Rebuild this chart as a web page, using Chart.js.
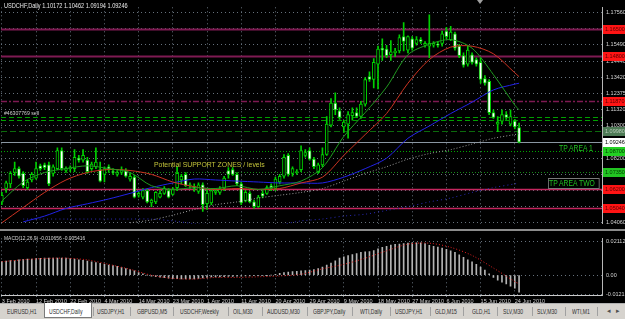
<!DOCTYPE html>
<html>
<head>
<meta charset="utf-8">
<title>USDCHF,Daily</title>
<script src="https://cdn.jsdelivr.net/npm/chart.js"></script>
<style>
  html, body { margin: 0; padding: 0; }
  body { width: 625px; height: 319px; position: relative; overflow: hidden; background: #000; font-family: "Liberation Sans", Arial, sans-serif; }
  canvas { position: absolute; left: 0; }
  #main { top: 0; }
  #macd { top: 231px; }
  #sep { position: absolute; left: 0; top: 229px; width: 625px; height: 2px; background: #8c8c8c; }
  .txt { position: absolute; white-space: nowrap; line-height: 1; transform-origin: 0 0; }
  #shift { position: absolute; left: 477px; top: 0; width: 0; height: 0; border-left: 3px solid transparent; border-right: 3px solid transparent; border-top: 4px solid #a0a0a0; }
  #tabs { position: absolute; left: 0; top: 303px; width: 625px; height: 16px; background: #d6d3ce; border-top: 1px solid #b0b0b0; }
  .tab { position: absolute; top: 4px; font-size: 7.5px; color: #303030; transform: scaleX(0.68); transform-origin: 0 0; white-space: nowrap; line-height: 1; }
  .bar { position: absolute; top: 3px; width: 1px; height: 9px; background: #a0a0a0; }
  #active { position: absolute; left: 44px; top: -1px; width: 46px; height: 14px; background: #fff; border: 1px solid #7a7a7a; border-top: none; }
  .arrow { position: absolute; top: 3px; font-size: 7px; color: #505050; }
</style>
</head>
<body>
<canvas id="main" width="625" height="231"></canvas>
<div id="sep"></div>
<canvas id="macd" width="625" height="73"></canvas>
<div id="shift"></div>
<div class="txt" id="title" style="left:4px;top:3px;font-size:6.5px;color:#e8e8e8;transform:scaleX(0.86)"></div>
<div class="txt" style="left:4px;top:110px;font-size:6px;color:#d0d0d0;transform:scaleX(0.86)">#46307769 sell</div>
<div class="txt" style="left:154px;top:161px;font-size:8px;color:#c4c43a;transform:scaleX(0.86)">Potential SUPPORT ZONES / levels</div>
<div class="txt" style="left:559px;top:144px;font-size:8.5px;color:#22c022;transform:scaleX(0.8)">TP AREA 1</div>
<div class="txt" style="left:548px;top:178px;width:58px;height:9px;border:1px solid #7a7a7a;transform:scaleX(0.86)"></div>
<div class="txt" style="left:549px;top:179px;font-size:8.5px;color:#22c022;transform:scaleX(0.8)">TP AREA TWO</div>
<div class="txt" id="macdTitle" style="left:4px;top:235px;font-size:6px;color:#d8d8d8;transform:scaleX(0.82)"></div>
<div id="tabs"><div id="active"></div></div>
<script>
// USDCHF daily candles, 3 Feb 2010 .. 25 Jun 2010
const open = [
  1.0540,1.0626,1.0656,1.0729,1.0754,1.0723,1.0632,1.0681,1.0693,1.0772,
  1.0778,1.0778,1.0723,1.0754,1.0870,1.0742,1.0754,1.0754,1.0821,1.0809,
  1.0809,1.0754,1.0766,1.0748,1.0717,1.0766,1.0735,1.0717,1.0729,1.0742,
  1.0687,1.0699,1.0583,1.0571,1.0613,1.0534,1.0540,1.0571,1.0595,1.0613,
  1.0589,1.0632,1.0681,1.0717,1.0644,1.0638,1.0607,1.0650,1.0528,1.0534,
  1.0601,1.0601,1.0626,1.0742,1.0748,1.0717,1.0656,1.0546,1.0595,1.0540,
  1.0510,1.0595,1.0595,1.0644,1.0626,1.0668,1.0705,1.0839,1.0723,1.0729,
  1.0748,1.0839,1.0870,1.0815,1.0735,1.0778,1.0845,1.1034,1.1175,1.1126,
  1.1022,1.1040,1.1095,1.1114,1.1089,1.1169,1.1345,1.1327,1.1425,1.1528,
  1.1522,1.1486,1.1498,1.1510,1.1602,1.1516,1.1589,1.1559,1.1583,1.1547,
  1.1541,1.1547,1.1553,1.1559,1.1638,1.1583,1.1620,1.1541,1.1480,1.1425,
  1.1486,1.1455,1.1437,1.1333,1.1315,1.1114,1.1040,1.1059,1.1101,1.1040,
  1.1059,1.10172
];
const high = [
  1.0601,1.0674,1.0735,1.0796,1.0766,1.0735,1.0681,1.0729,1.0796,1.0784,
  1.0790,1.0796,1.0778,1.0888,1.0888,1.0766,1.0772,1.0876,1.0839,1.0876,
  1.0827,1.0796,1.0888,1.0796,1.0766,1.0778,1.0754,1.0742,1.0766,1.0754,
  1.0723,1.0711,1.0607,1.0626,1.0626,1.0559,1.0607,1.0613,1.0638,1.0626,
  1.0632,1.0766,1.0717,1.0729,1.0662,1.0656,1.0662,1.0662,1.0620,1.0626,
  1.0626,1.0638,1.0705,1.0760,1.0760,1.0729,1.0668,1.0613,1.0607,1.0552,
  1.0583,1.0613,1.0644,1.0656,1.0699,1.0717,1.0845,1.0851,1.0766,1.0748,
  1.0900,1.0876,1.0888,1.0827,1.0790,1.0888,1.1089,1.1205,1.1242,1.1144,
  1.1065,1.1120,1.1144,1.1144,1.1187,1.1339,1.1376,1.1461,1.1541,1.1589,
  1.1547,1.1577,1.1528,1.1614,1.1693,1.1608,1.1602,1.1602,1.1596,1.1571,
  1.1742,1.1571,1.1571,1.1638,1.1663,1.1669,1.1632,1.1553,1.1498,1.1541,
  1.1498,1.1467,1.1467,1.1352,1.1327,1.1132,1.1089,1.1132,1.1120,1.1132,
  1.1071,1.10462
];
const low = [
  1.0522,1.0601,1.0632,1.0711,1.0693,1.0632,1.0620,1.0668,1.0687,1.0742,
  1.0748,1.0644,1.0705,1.0748,1.0742,1.0729,1.0735,1.0735,1.0796,1.0796,
  1.0723,1.0742,1.0754,1.0668,1.0668,1.0729,1.0717,1.0705,1.0717,1.0699,
  1.0674,1.0565,1.0571,1.0559,1.0534,1.0510,1.0528,1.0565,1.0589,1.0565,
  1.0583,1.0613,1.0656,1.0638,1.0626,1.0607,1.0595,1.0479,1.0491,1.0522,
  1.0589,1.0589,1.0613,1.0693,1.0711,1.0644,1.0522,1.0540,1.0534,1.0498,
  1.0504,1.0565,1.0589,1.0613,1.0613,1.0656,1.0693,1.0705,1.0705,1.0717,
  1.0735,1.0827,1.0809,1.0754,1.0723,1.0766,1.0839,1.1022,1.1101,1.1071,
  1.0986,1.0949,1.1065,1.1083,1.1077,1.1156,1.1315,1.1272,1.1266,1.1449,
  1.1467,1.1449,1.1474,1.1498,1.1510,1.1498,1.1516,1.1547,1.1559,1.1535,
  1.1467,1.1535,1.1535,1.1541,1.1589,1.1577,1.1516,1.1467,1.1406,1.1412,
  1.1425,1.1412,1.1303,1.1291,1.1101,1.1077,1.0992,1.1040,1.1071,1.1028,
  1.1010,1.09194
];
const close = [
  1.0583,1.0662,1.0723,1.0754,1.0705,1.0644,1.0668,1.0717,1.0754,1.0754,
  1.0760,1.0656,1.0766,1.0870,1.0754,1.0754,1.0760,1.0827,1.0809,1.0839,
  1.0735,1.0784,1.0796,1.0674,1.0754,1.0748,1.0729,1.0729,1.0748,1.0705,
  1.0705,1.0571,1.0595,1.0613,1.0540,1.0552,1.0601,1.0595,1.0626,1.0571,
  1.0620,1.0723,1.0705,1.0644,1.0650,1.0626,1.0650,1.0522,1.0595,1.0613,
  1.0613,1.0626,1.0693,1.0717,1.0717,1.0656,1.0534,1.0601,1.0540,1.0510,
  1.0571,1.0577,1.0632,1.0626,1.0687,1.0705,1.0827,1.0717,1.0754,1.0735,
  1.0870,1.0857,1.0815,1.0766,1.0778,1.0845,1.1040,1.1175,1.1132,1.1083,
  1.1053,1.1101,1.1114,1.1089,1.1169,1.1327,1.1327,1.1437,1.1522,1.1516,
  1.1480,1.1504,1.1510,1.1596,1.1571,1.1602,1.1528,1.1583,1.1571,1.1559,
  1.1559,1.1559,1.1547,1.1620,1.1602,1.1632,1.1528,1.1480,1.1419,1.1516,
  1.1437,1.1425,1.1327,1.1303,1.1114,1.1083,1.1053,1.1101,1.1083,1.1089,
  1.1022,1.09246
];

// moving averages, read every 5 bars
const maIdx   = [0,5,10,15,20,25,30,35,40,45,50,55,60,65,70,75,80,85,90,95,100,105,110,115,120,121];
const maGreen = [1.0546,1.0668,1.0729,1.0754,1.0772,1.0754,1.0729,1.0644,1.0620,1.0632,1.0626,1.0644,1.0620,1.0644,1.0674,1.0760,1.0961,1.1114,1.1278,1.1486,1.1553,1.1583,1.1528,1.1358,1.1162,1.1132];
const maRed   = [1.0406,1.0504,1.0601,1.0681,1.0729,1.0748,1.0742,1.0717,1.0668,1.0638,1.0620,1.0626,1.0620,1.0626,1.0662,1.0699,1.0839,1.0973,1.1108,1.1303,1.1455,1.1535,1.1541,1.1492,1.1370,1.1345];
const maBlue  = [null,1.0412,1.0449,1.0498,1.0528,1.0559,1.0595,1.0632,1.0662,1.0687,1.0681,1.0674,1.0668,1.0662,1.0662,1.0662,1.0699,1.0754,1.0821,1.0949,1.1028,1.1108,1.1181,1.1260,1.1297,1.1303];
const maGrey  = [null,null,null,null,null,null,1.0406,1.0424,1.0455,1.0491,1.0522,1.0540,1.0565,1.0583,1.0601,1.0626,1.0674,1.0723,1.0766,1.0815,1.0851,1.0876,1.0912,1.0949,1.0973,1.0979];
const maNavy  = [null,1.0430,1.0430,1.0430,1.0430,1.0430,1.0430,1.0430,1.0418,1.0400,1.0394,1.0394,1.0394,1.0394,1.0418,1.0430,1.0449,1.0461,1.0485,1.0510,1.0540,1.0565,1.0601,1.0632,1.0656,1.0662];

// MACD(12,26,9): main as histogram, signal read every 5 bars
const macdMain = [
  0.0085,0.0088,0.0092,0.0094,0.0097,0.0099,0.0101,0.0102,0.0104,0.0106,
  0.0107,0.0107,0.0107,0.0107,0.0107,0.0107,0.0104,0.0101,0.0097,0.0093,
  0.0089,0.0084,0.0079,0.0074,0.0069,0.0064,0.0060,0.0055,0.0050,0.0042,
  0.0036,0.0028,0.0017,0.0008,0.0000,-0.0006,-0.0009,-0.0012,-0.0016,-0.0018,
  -0.0020,-0.0021,-0.0023,-0.0023,-0.0023,-0.0023,-0.0020,-0.0017,-0.0014,-0.0011,
  -0.0011,-0.0010,-0.0009,-0.0008,-0.0007,-0.0006,-0.0006,-0.0005,-0.0004,-0.0003,
  -0.0002,-0.0002,-0.0001,0.0000,0.0005,0.0011,0.0016,0.0019,0.0022,0.0025,
  0.0028,0.0029,0.0032,0.0036,0.0042,0.0051,0.0064,0.0076,0.0090,0.0107,
  0.0116,0.0123,0.0130,0.0135,0.0143,0.0147,0.0149,0.0155,0.0166,0.0175,
  0.0182,0.0189,0.0194,0.0196,0.0198,0.0201,0.0203,0.0203,0.0203,0.0198,
  0.0187,0.0181,0.0176,0.0170,0.0162,0.0153,0.0144,0.0128,0.0112,0.0097,
  0.0084,0.0068,0.0051,0.0032,0.0008,-0.0014,-0.0031,-0.0043,-0.0055,-0.0069,
  -0.0081,-0.010656
];
const macdSignal = [0.0085,0.0097,0.0105,0.0107,0.0096,0.0068,0.0037,0.0000,-0.0020,-0.0024,-0.0014,-0.0014,-0.0010,-0.0005,0.0006,0.0040,0.0068,0.0107,0.0153,0.0195,0.0201,0.0175,0.0124,0.0045,-0.0040,-0.005416];

// horizontal levels drawn on the chart
const levelPrices = [1.1650, 1.1480, 1.1187, 1.1089, 1.1065, 1.0998, 1.0870, 1.0735, 1.0620, 1.0504];

// axis ticks
const priceTicks = [1.17560,1.16525,1.15490,1.14440,1.13420,1.12375,1.11320,1.10300,1.09250,1.08200,1.07150,1.06105,1.05080,1.04060];
const macdTicks = [0.021125, 0, -0.01216];
const macdTickLabels = ['0.021125', '0.00', '-0.01216'];
const dateIdx = [0,8,16,24,32,40,48,56,64,72,80,88,96,104,112,120];
const dateLabels = ['3 Feb 2010','12 Feb 2010','22 Feb 2010','4 Mar 2010','14 Mar 2010','23 Mar 2010','1 Apr 2010','11 Apr 2010','20 Apr 2010','29 Apr 2010','9 May 2010','18 May 2010','27 May 2010','6 Jun 2010','15 Jun 2010','24 Jun 2010'];

const tabNames = ['EURUSD,H1','USDCHF,Daily','USDJPY,H1','GBPUSD,M5','USDCHF,Weekly','OIL,M30','AUDUSD,M30','GBPJPY,Daily','WTI,Daily','USDJPY,H1','GLD,M15','GLD,H1','SLV,M30','SLV,M30','WTI,M1'];

// ---- styles ----
const levelStyles = [
  { color: '#7e1a52', width: 2,   dash: [],           box: '#ff1414', text: '#5a0000' },
  { color: '#7e1a52', width: 2,   dash: [],           box: '#ff1414', text: '#5a0000' },
  { color: '#7e1a52', width: 1.5, dash: [6, 2, 2, 2], box: '#ff1414', text: '#5a0000' },
  { color: '#00a000', width: 1,   dash: [5, 3],       box: null },
  { color: '#00a000', width: 1,   dash: [5, 3],       box: null },
  { color: '#0c6a0c', width: 1,   dash: [6, 3],       box: '#4d7a55', text: '#b8ccb8' },
  { color: '#00a800', width: 1,   dash: [1, 2],       box: '#22d022', text: '#003a00' },
  { color: '#168a16', width: 1,   dash: [1, 2],       box: '#22c422', text: '#003a00' },
  { color: '#c4265e', width: 1.5, dash: [],           box: '#ff1414', text: '#5a0000' },
  { color: '#c4265e', width: 1.5, dash: [],           box: '#ff1414', text: '#5a0000' }
];
const candleGreen = '#00d000';
const gridColor = '#66717c';
const xMin = -0.2, xMax = 140.4;
const last = close.length - 1;

Chart.defaults.font.family = '"Liberation Sans", Arial, sans-serif';
Chart.defaults.animation = false;

document.getElementById('title').textContent =
  'USDCHF,Daily ' + [open[last], high[last], low[last], close[last]].map(v => v.toFixed(5)).join(' ');
document.getElementById('macdTitle').textContent =
  'MACD(12,26,9) ' + macdMain[last].toFixed(6) + ' ' + macdSignal[macdSignal.length - 1].toFixed(6);

function maPoints(arr) {
  return maIdx.map((x, k) => ({ x: x, y: arr[k] })).filter(p => p.y !== null);
}

function axisBox(ctx, y, fill, textColor, label) {
  ctx.fillStyle = fill;
  ctx.fillRect(603, Math.round(y) - 4, 22, 9);
  ctx.fillStyle = textColor;
  ctx.font = '5.5px "Liberation Sans", Arial, sans-serif';
  ctx.textBaseline = 'middle';
  ctx.textAlign = 'left';
  ctx.fillText(label, 605, Math.round(y) + 0.5);
}

const levelsPlugin = {
  id: 'levels',
  beforeDatasetsDraw(chart) {
    const { ctx, chartArea: a, scales: { y } } = chart;
    ctx.save();
    levelPrices.forEach((p, k) => {
      const st = levelStyles[k];
      const py = Math.round(y.getPixelForValue(p)) + 0.5;
      ctx.strokeStyle = st.color;
      ctx.lineWidth = st.width;
      ctx.setLineDash(st.dash);
      ctx.beginPath();
      ctx.moveTo(a.left, py);
      ctx.lineTo(a.right, py);
      ctx.stroke();
    });
    // bid line
    const by = Math.round(y.getPixelForValue(close[last])) + 0.5;
    ctx.setLineDash([]);
    ctx.strokeStyle = '#8a96a2';
    ctx.lineWidth = 1;
    ctx.beginPath();
    ctx.moveTo(a.left, by);
    ctx.lineTo(a.right, by);
    ctx.stroke();
    ctx.restore();
  },
  afterDraw(chart) {
    const { ctx, scales: { y } } = chart;
    ctx.save();
    levelPrices.forEach((p, k) => {
      const st = levelStyles[k];
      if (!st.box) return;
      axisBox(ctx, y.getPixelForValue(p), st.box, st.text, p.toFixed(5));
    });
    axisBox(ctx, y.getPixelForValue(close[last]), '#ffffff', '#000000', close[last].toFixed(5));
    ctx.restore();
  }
};

const bodyFill = open.map((o, i) => close[i] >= o ? '#000000' : '#ffffff');

new Chart(document.getElementById('main'), {
  type: 'bar',
  data: {
    datasets: [
      { type: 'line', data: maPoints(maNavy), borderColor: '#2a2ab8', borderWidth: 1, borderDash: [1, 3], pointRadius: 0, tension: 0.3, order: 3 },
      { type: 'line', data: maPoints(maGrey), borderColor: '#9a9a9a', borderWidth: 1, borderDash: [1, 2], pointRadius: 0, tension: 0.3, order: 3 },
      { type: 'line', data: maPoints(maBlue), borderColor: '#2222e6', borderWidth: 1, pointRadius: 0, tension: 0.3, order: 2 },
      { type: 'line', data: maPoints(maRed), borderColor: '#cc3322', borderWidth: 1, pointRadius: 0, tension: 0.3, order: 1 },
      { type: 'line', data: maPoints(maGreen), borderColor: '#1f9a1f', borderWidth: 1, pointRadius: 0, tension: 0.3, order: 0 },
      {
        data: open.map((o, i) => ({ x: i, y: [o, close[i]] })),
        backgroundColor: bodyFill, borderColor: candleGreen, borderWidth: 1,
        borderSkipped: false, barThickness: 3, minBarLength: 1, grouped: false, order: 5
      },
      {
        data: low.map((l, i) => ({ x: i, y: [l, high[i]] })),
        backgroundColor: candleGreen, borderWidth: 0, barThickness: 1, grouped: false, order: 6
      }
    ]
  },
  options: {
    responsive: false,
    devicePixelRatio: 1,
    layout: { padding: { left: 1, right: 0, top: 2, bottom: 1 } },
    plugins: { legend: { display: false }, tooltip: { enabled: false } },
    scales: {
      x: {
        type: 'linear', min: xMin, max: xMax, offset: false,
        afterBuildTicks: s => { s.ticks = dateIdx.map(v => ({ value: v })); },
        afterFit: s => { s.height = 0; },
        grid: { color: gridColor, drawTicks: false, offset: false },
        border: { display: false, dash: [1, 3] },
        ticks: { display: false }
      },
      y: {
        position: 'right', min: 1.0400, max: 1.1791,
        afterBuildTicks: s => { s.ticks = priceTicks.map(v => ({ value: v })); },
        afterFit: s => { s.width = 23; },
        grid: { color: gridColor, drawTicks: false },
        border: { display: true, color: '#b8b8b8', dash: [1, 3] },
        ticks: { color: '#d4d4d4', padding: 4, font: { size: 5.5 }, callback: v => v.toFixed(5) }
      }
    }
  },
  plugins: [levelsPlugin]
});

new Chart(document.getElementById('macd'), {
  type: 'bar',
  data: {
    datasets: [
      { type: 'line', data: maIdx.map((x, k) => ({ x: x, y: macdSignal[k] })), borderColor: '#e02020', borderWidth: 1, borderDash: [1, 2], pointRadius: 0, tension: 0.3, order: 0 },
      { data: macdMain.map((v, i) => ({ x: i, y: v })), backgroundColor: '#b4b4b4', barThickness: 1, grouped: false, order: 1 }
    ]
  },
  options: {
    responsive: false,
    devicePixelRatio: 1,
    layout: { padding: { left: 1, right: 0, top: 1, bottom: 0 } },
    plugins: { legend: { display: false }, tooltip: { enabled: false } },
    scales: {
      x: {
        type: 'linear', min: xMin, max: xMax, offset: false,
        afterBuildTicks: s => { s.ticks = dateIdx.map(v => ({ value: v })); },
        afterFit: s => { s.height = 9; },
        grid: { color: gridColor, drawTicks: true, tickLength: 2, offset: false },
        border: { display: true, color: '#c8c8c8', dash: [1, 3] },
        ticks: {
          color: '#d4d4d4', font: { size: 5.5 }, padding: 1, align: 'start',
          maxRotation: 0, autoSkip: false,
          callback: v => dateLabels[dateIdx.indexOf(v)]
        }
      },
      y: {
        position: 'right', min: -0.01243, max: 0.02317,
        afterBuildTicks: s => { s.ticks = macdTicks.map(v => ({ value: v })); },
        afterFit: s => { s.width = 23; },
        grid: { color: gridColor, drawTicks: false },
        border: { display: true, color: '#b8b8b8', dash: [1, 3] },
        ticks: { color: '#d4d4d4', padding: 4, font: { size: 5.5 }, callback: (v, i) => macdTickLabels[i] }
      }
    }
  }
});

// terminal tab strip
const tabLeft = [7, 49, 97, 137, 180, 233, 267, 313, 360, 395, 435, 472, 503, 537, 572];
const tabBars = [93, 130, 173, 228, 262, 307, 352, 390, 430, 463, 497, 532, 565, 597];
const tabs = document.getElementById('tabs');
tabNames.forEach((name, k) => {
  const t = document.createElement('div');
  t.className = 'tab';
  t.style.left = tabLeft[k] + 'px';
  t.textContent = name;
  tabs.appendChild(t);
});
tabBars.forEach(x => {
  const b = document.createElement('div');
  b.className = 'bar';
  b.style.left = x + 'px';
  tabs.appendChild(b);
});
['\u25C2', '\u25B8'].forEach((s, k) => {
  const a = document.createElement('div');
  a.className = 'arrow';
  a.style.left = (607 + k * 9) + 'px';
  a.textContent = s;
  tabs.appendChild(a);
});
</script>
</body>
</html>
